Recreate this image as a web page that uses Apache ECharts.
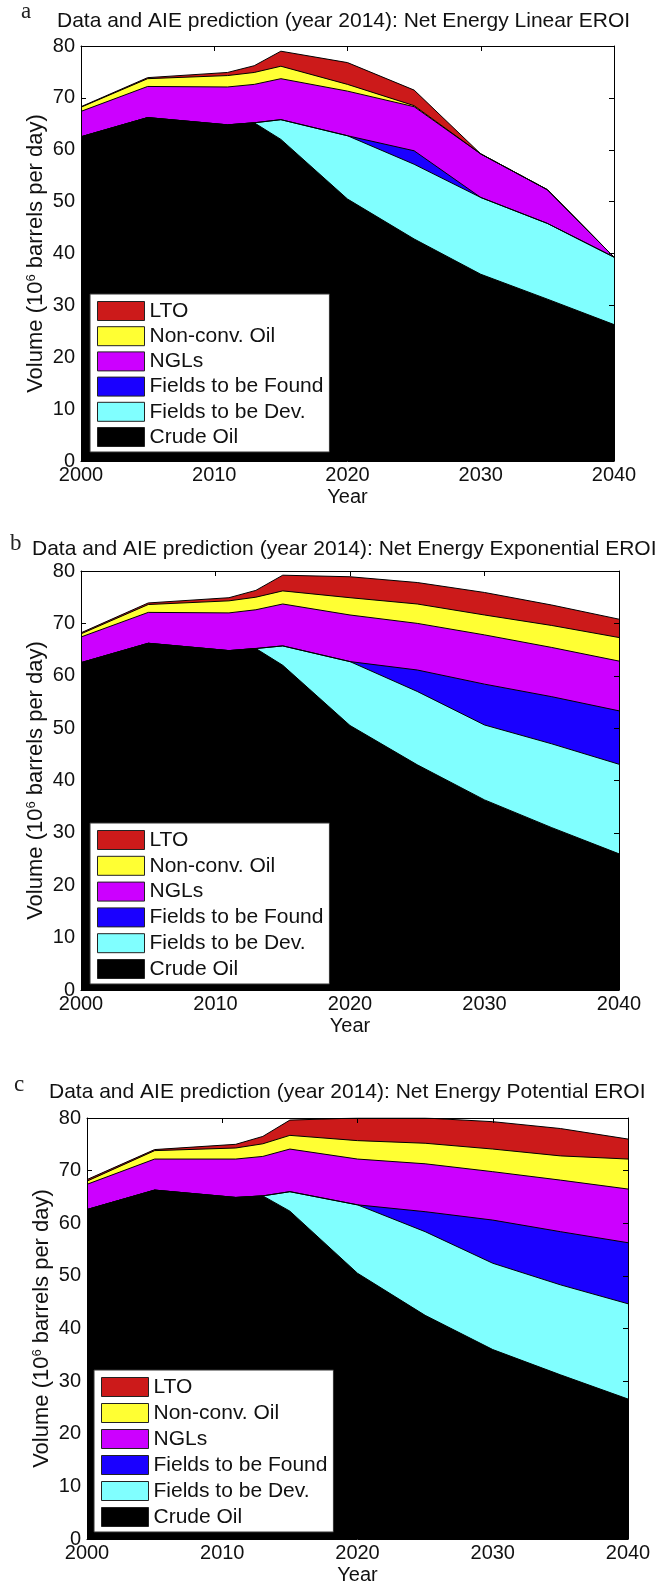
<!DOCTYPE html>
<html>
<head>
<meta charset="utf-8">
<script src="https://cdn.jsdelivr.net/npm/echarts@6/dist/echarts.min.js"></script>
<style>
  html, body { margin: 0; padding: 0; background: #ffffff; }
  #chart { width: 669px; height: 1589px; }
</style>
</head>
<body>
<div id="chart"></div>
<script>
// Years at which the production layers are given
const years = [2000, 2005, 2011, 2013, 2015, 2020, 2025, 2030, 2035, 2040];

// Panel a: Net Energy Linear EROI (10^6 barrels per day, per layer)
const linCrude   = [62.5, 66.2, 64.8, 65.2, 62.0, 50.5, 42.8, 36.0, 31.2, 26.3];
const linDev     = [0, 0, 0, 0, 3.8, 12.2, 14.4, 14.8, 14.6, 13.0];
const linFound   = [0, 0, 0, 0, 0, 0, 2.6, 0, 0, 0];
const linNgl     = [4.9, 6.0, 7.3, 7.4, 7.9, 8.6, 8.5, 8.4, 6.5, 0];
const linNonConv = [0.8, 1.5, 2.2, 2.3, 2.4, 1.3, 0.2, 0, 0, 0];
const linLto     = [0.1, 0.2, 0.6, 1.3, 2.9, 4.2, 3.0, 0, 0, 0];

// Panel b: Net Energy Exponential EROI
const expCrude   = [62.5, 66.2, 64.8, 65.2, 62.0, 50.5, 43.0, 36.3, 31.0, 26.0];
const expDev     = [0, 0, 0, 0, 3.7, 12.2, 14.0, 14.3, 16.0, 17.1];
const expFound   = [0, 0, 0, 0, 0, 0, 4.1, 7.8, 9.0, 10.2];
const expNgl     = [4.9, 5.9, 7.2, 7.4, 8.0, 8.9, 8.9, 9.4, 9.4, 9.5];
const expNonConv = [0.6, 1.5, 2.3, 2.4, 2.5, 3.3, 3.7, 3.8, 4.2, 4.5];
const expLto     = [0.2, 0.3, 0.6, 1.3, 3.0, 4.0, 4.1, 4.3, 3.9, 3.5];

// Panel c: Net Energy Potential EROI
const potCrude   = [62.6, 66.3, 64.9, 65.2, 62.3, 50.5, 42.5, 36.0, 31.2, 26.6];
const potDev     = [0, 0, 0, 0, 3.7, 13.0, 15.9, 16.4, 17.1, 18.1];
const potFound   = [0, 0, 0, 0, 0, 0, 3.8, 8.2, 10.1, 11.6];
const potNgl     = [4.8, 5.9, 7.3, 7.5, 8.1, 8.7, 9.1, 9.2, 9.8, 10.2];
const potNonConv = [0.6, 1.6, 2.1, 2.4, 2.6, 3.5, 3.9, 4.3, 4.6, 5.7];
const potLto     = [0.3, 0.2, 0.7, 1.4, 2.9, 4.3, 4.8, 5.2, 5.2, 3.8];

// Layer names, bottom to top, with their fill colours
const layerNames  = ['Crude Oil', 'Fields to be Dev.', 'Fields to be Found', 'NGLs', 'Non-conv. Oil', 'LTO'];
const layerColors = ['#000000', '#80ffff', '#1a00ff', '#cc00ff', '#ffff33', '#cc1a1a'];

const panels = [
  { letter: 'a', title: 'Data and AIE prediction (year 2014): Net Energy Linear EROI',
    layers: [linCrude, linDev, linFound, linNgl, linNonConv, linLto],
    grid: { left: 81, top: 46, width: 533, height: 415 },
    letterPos: [21, 0], titlePos: [57, 11],
    legend: { left: 90, top: 294, itemGap: 4.2 } },
  { letter: 'b', title: 'Data and AIE prediction (year 2014): Net Energy Exponential EROI',
    layers: [expCrude, expDev, expFound, expNgl, expNonConv, expLto],
    grid: { left: 81, top: 571, width: 538, height: 419 },
    letterPos: [10, 532], titlePos: [32, 539],
    legend: { left: 90, top: 823, itemGap: 4.8 } },
  { letter: 'c', title: 'Data and AIE prediction (year 2014): Net Energy Potential EROI',
    layers: [potCrude, potDev, potFound, potNgl, potNonConv, potLto],
    grid: { left: 87, top: 1118, width: 541, height: 421 },
    letterPos: [14, 1073], titlePos: [49, 1082],
    legend: { left: 94, top: 1370, itemGap: 5 } }
];

const FONT = 'Liberation Sans, Arial, Helvetica, sans-serif';

const option = {
  animation: false,
  backgroundColor: '#ffffff',
  title: [], grid: [], xAxis: [], yAxis: [], legend: [], series: [], graphic: []
};

panels.forEach(function (p, gi) {
  option.title.push({
    text: p.title, left: p.titlePos[0], top: p.titlePos[1], padding: 0,
    textStyle: { fontFamily: FONT, fontSize: 21, fontWeight: 'normal', color: '#111' }
  });
  option.graphic.push({
    type: 'text', left: p.letterPos[0], top: p.letterPos[1],
    style: { text: p.letter, font: '23px "Liberation Serif", serif', fill: '#222' }
  });

  option.grid.push(Object.assign({ show: true, backgroundColor: '#ffffff', borderWidth: 0, outerBoundsMode: 'none' }, p.grid));

  const axisLine = { show: true, onZero: false, lineStyle: { color: '#000', width: 1 } };
  const tick = { show: true, inside: true, length: 5, lineStyle: { color: '#000', width: 1 } };

  // bottom x axis with labels
  option.xAxis.push({
    type: 'value', gridIndex: gi, position: 'bottom', min: 2000, max: 2040, interval: 10,
    name: 'Year', nameLocation: 'middle', nameGap: 26, nameMoveOverlap: false,
    nameTextStyle: { fontFamily: FONT, fontSize: 20, color: '#111' },
    axisLine: axisLine, axisTick: tick, splitLine: { show: false }, z: 5,
    axisLabel: { fontFamily: FONT, fontSize: 20, color: '#111', margin: 4,
                 formatter: function (v) { return String(v); } }
  });
  // top frame edge
  option.xAxis.push({
    type: 'value', gridIndex: gi, position: 'top', min: 2000, max: 2040, interval: 10,
    axisLine: axisLine, axisTick: tick, axisLabel: { show: false }, splitLine: { show: false }, z: 5
  });
  // left y axis with labels
  option.yAxis.push({
    type: 'value', gridIndex: gi, position: 'left', min: 0, max: 80, interval: 10,
    name: 'Volume (10{sup|6} barrels per day)', nameLocation: 'middle', nameRotate: 90,
    nameGap: 34, nameMoveOverlap: false,
    nameTextStyle: { fontFamily: FONT, fontSize: 22, color: '#111',
      rich: { sup: { fontFamily: FONT, fontSize: 13, verticalAlign: 'top', color: '#111' } } },
    axisLine: axisLine, axisTick: tick, splitLine: { show: false }, z: 5,
    axisLabel: { fontFamily: FONT, fontSize: 20, color: '#111', margin: 6 }
  });
  // right frame edge
  option.yAxis.push({
    type: 'value', gridIndex: gi, position: 'right', min: 0, max: 80, interval: 10,
    axisLine: axisLine, axisTick: tick, axisLabel: { show: false }, splitLine: { show: false }, z: 5
  });

  // cumulative layer tops, bottom to top
  const tops = [];
  p.layers.forEach(function (layer, k) {
    tops.push(layer.map(function (v, i) { return (k > 0 ? tops[k - 1][i] : 0) + v; }));
  });

  // draw from the top layer down so each lower layer covers the one above it
  for (let k = p.layers.length - 1; k >= 0; k--) {
    option.series.push({
      type: 'line', name: layerNames[k], xAxisIndex: gi * 2, yAxisIndex: gi * 2,
      data: years.map(function (y, i) { return [y, tops[k][i]]; }),
      symbol: 'none', smooth: false, clip: true,
      color: layerColors[k],
      itemStyle: { color: layerColors[k] },
      lineStyle: { color: '#000', width: 1 },
      areaStyle: { color: layerColors[k], opacity: 1, origin: 'start' },
      emphasis: { disabled: true }
    });
  }

  option.legend.push({
    orient: 'vertical', left: p.legend.left, top: p.legend.top,
    padding: [6.5, 6, 4.5, 7], itemGap: p.legend.itemGap,
    itemWidth: 47, itemHeight: 19, itemTextGap: 4, icon: 'rect',
    backgroundColor: '#ffffff', borderColor: '#333', borderWidth: 1,
    selectedMode: false,
    textStyle: { fontFamily: FONT, fontSize: 21, lineHeight: 21, color: '#111' },
    data: layerNames.slice().reverse().map(function (n) {
      return { name: n, itemStyle: { color: layerColors[layerNames.indexOf(n)], borderColor: '#222', borderWidth: 1 } };
    })
  });
});

const chart = echarts.init(document.getElementById('chart'), null, { renderer: 'canvas' });
chart.setOption(option);
</script>
</body>
</html>
